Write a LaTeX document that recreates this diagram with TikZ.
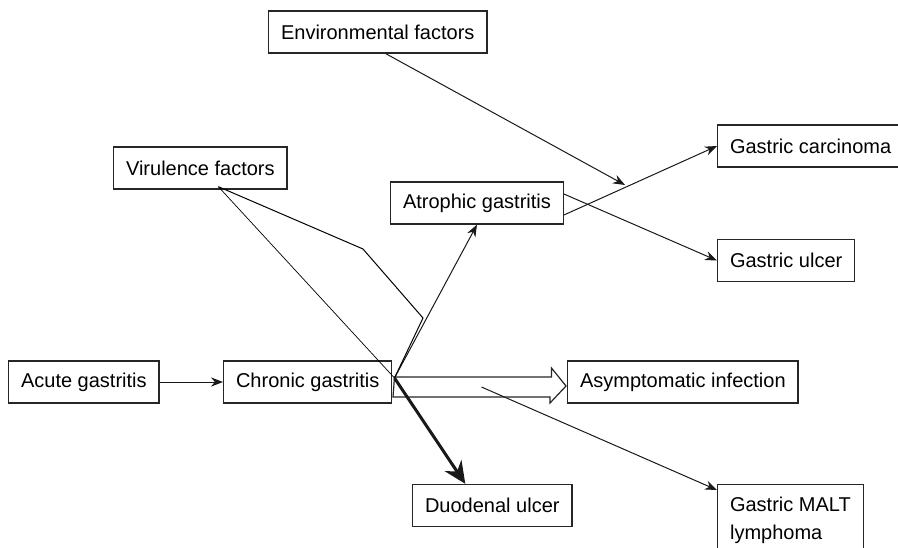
\documentclass[tikz,border=0pt]{standalone}
\usepackage{fontspec}
\setmainfont{Liberation Sans}
\usetikzlibrary{arrows.meta,calc,positioning}

\begin{document}
\begin{tikzpicture}[x=0.5pt,y=-0.5pt]
\tikzstyle{box}=[rectangle, draw=black!85, line width=0.65pt, inner xsep=6.2pt, minimum height=21pt, font=\fontsize{10}{14}\selectfont, anchor=west]
\tikzstyle{connect}=[-{Stealth[length=6pt,width=4.6pt]}, line width=0.5pt, draw=black!90]
\tikzstyle{heavy}=[-{Stealth[length=11pt,width=10pt]}, line width=1.5pt, draw=black!90]
\tikzstyle{hollow}=[draw=black!85, line width=0.6pt, fill=white]
  \clip (0,0) rectangle (898,547);
  \node[box] (env) at (268,32) {Environmental factors};
  \node[box] (vir) at (113,168) {Virulence factors};
  \node[box] (atro) at (390,203) {Atrophic gastritis};
  \node[box] (carc) at (717,146) {Gastric carcinoma};
  \node[box] (ulcer) at (717,260.5) {Gastric ulcer};
  \node[box] (acute) at (8,382) {Acute gastritis};
  \node[box] (chronic) at (223,382) {Chronic gastritis};
  \node[box] (asym) at (567,382) {Asymptomatic infection};
  \node[box] (duo) at (412,505.5) {Duodenal ulcer};
  \node[box, anchor=north west, align=left, inner ysep=6pt] (malt) at (717,484) {Gastric MALT\\lymphoma};
  % free ends
  \coordinate (hub) at ($(chronic.east)+(2,-4)$);
  \coordinate (vir-out) at ($(vir.south)+(18,-3)$);
  \coordinate (env-tip) at (625,185);
  \coordinate (malt-src) at ($(chronic.east)+(89,5)$);
  % hollow arrow to asymptomatic infection
  \draw[hollow] ($(chronic.east)+(2,-5)$) -- ++(157,0) -- ++(0,-9)
    -- ($(asym.west)+(-1,4)$) -- ++(-16,17) -- ++(0,-6) -- ++(-157,0) -- cycle;
  \path (acute) edge [connect] (chronic)
        (hub) edge [connect] (atro.south)
        ($(atro.east)+(0,12)$) edge [connect] (carc.west)
        ($(atro.east)+(0,-9)$) edge [connect] (ulcer.west)
        ($(env.south)+(8,0)$) edge [connect] (env-tip)
        (malt-src) edge [connect] ($(malt.north west)+(0,6)$);
  \draw[line width=0.35pt] (vir-out) -- (hub);
  \draw[line width=0.5pt] (vir-out) -- (363,249) -- (423,318) -- (hub);
  \draw[heavy] (hub) -- ($(duo.north)+(-27,0)$);
\end{tikzpicture}
\end{document}
